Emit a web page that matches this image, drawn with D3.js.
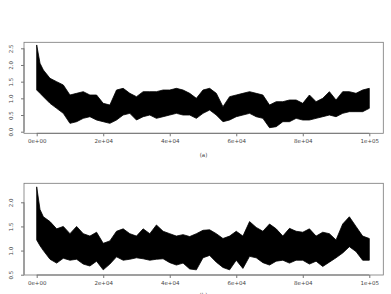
<!DOCTYPE html>
<html>
<head>
<meta charset="utf-8">
<script src="https://cdn.jsdelivr.net/npm/d3@7"></script>
<style>
  body { margin: 0; background: #fff; }
  text { font-family: "DejaVu Sans", sans-serif; }
</style>
</head>
<body>
<svg id="chart"></svg>
<script>
// x positions in thousands of iterations
var xk = [0,1,2,4,6,8,10,12,14,16,18,20,22,24,26,28,30,32,34,36,38,40,42,44,46,48,50,
          52,54,56,58,60,62,64,66,68,70,72,74,76,78,80,82,84,86,88,90,92,94,96,98,100];

// panel (a): upper / lower edge of the band
var hiA = [2.6,2.05,1.85,1.6,1.5,1.4,1.1,1.15,1.2,1.1,1.1,0.85,0.8,1.25,1.3,1.15,1.05,1.2,1.2,1.2,1.25,1.25,
           1.3,1.25,1.15,1.0,1.25,1.3,1.15,0.75,1.05,1.1,1.15,1.2,1.15,1.1,0.8,0.9,0.9,0.95,0.95,0.85,
           1.1,0.9,1.0,1.2,0.95,1.2,1.2,1.15,1.25,1.3];
var loA = [1.25,1.15,1.05,0.85,0.7,0.55,0.25,0.3,0.4,0.45,0.35,0.3,0.25,0.35,0.5,0.55,0.35,0.45,0.5,0.4,0.45,0.5,
           0.55,0.5,0.5,0.4,0.55,0.65,0.5,0.3,0.35,0.45,0.5,0.55,0.45,0.4,0.12,0.15,0.3,0.3,0.4,0.35,
           0.35,0.4,0.45,0.5,0.45,0.55,0.6,0.6,0.6,0.7];

// panel (b)
var hiB = [2.32,1.85,1.7,1.6,1.45,1.5,1.35,1.5,1.35,1.3,1.38,1.15,1.2,1.4,1.45,1.35,1.3,1.45,1.35,1.53,1.4,1.35,
           1.3,1.33,1.29,1.35,1.42,1.43,1.35,1.25,1.3,1.4,1.3,1.6,1.48,1.4,1.55,1.45,1.3,1.46,1.4,1.38,
           1.45,1.3,1.38,1.35,1.22,1.55,1.7,1.5,1.3,1.25];
var loB = [1.22,1.1,1.0,0.82,0.74,0.84,0.8,0.82,0.72,0.68,0.78,0.6,0.72,0.87,0.8,0.82,0.85,0.83,0.8,0.82,0.83,0.75,
           0.7,0.74,0.62,0.6,0.85,0.9,0.76,0.65,0.6,0.8,0.63,0.88,0.85,0.75,0.7,0.78,0.8,0.74,0.8,0.8,
           0.72,0.78,0.67,0.76,0.85,0.95,1.08,0.98,0.8,0.8];

var xTicks = [0,20000,40000,60000,80000,100000];
var xTickLabels = ["0e+00","2e+04","4e+04","6e+04","8e+04","1e+05"];
var yTicksA = [0,0.5,1,1.5,2,2.5];
var yTicksB = [0.5,1,1.5,2];

var W = 391, H = 294;
var svg = d3.select("#chart").attr("width", W).attr("height", H);

var x = d3.scaleLinear().domain([0,100000]).range([36.7,369.3]);

function panel(hi, lo, yScale, yTicks, box, label, labelY)
{
  var g = svg.append("g");
  var data = xk.map(function(k, i) { return {x: k*1000, hi: hi[i], lo: lo[i]}; });

  var area = d3.area()
               .x(function(d) { return x(d.x); })
               .y0(function(d) { return yScale(d.lo); })
               .y1(function(d) { return yScale(d.hi); });

  g.append("path")
   .datum(data)
   .attr("d", area)
   .attr("fill", "#000")
   .attr("stroke", "#000")
   .attr("stroke-width", 0.8)
   .attr("stroke-linejoin", "miter");

  // box
  g.append("rect")
   .attr("x", 24).attr("y", box[0])
   .attr("width", 383.3-24).attr("height", box[1]-box[0])
   .attr("fill", "none").attr("stroke", "#777").attr("stroke-width", 0.8);

  // x axis
  var xa = g.append("g").attr("transform", "translate(0," + box[1] + ")")
            .call(d3.axisBottom(x).tickValues(xTicks).tickSize(3).tickPadding(3)
                    .tickFormat(function(d, i) { return xTickLabels[i]; }));
  xa.select(".domain").attr("stroke", "#777").attr("d", "M" + x(0) + ",0H" + x(100000));
  xa.selectAll(".tick line").attr("stroke", "#777");
  xa.selectAll("text").attr("font-size", 5.5).attr("fill", "#444")
    .attr("font-family", "DejaVu Sans");

  // y axis
  var ya = g.append("g").attr("transform", "translate(24,0)")
            .call(d3.axisLeft(yScale).tickValues(yTicks).tickSize(3).tickFormat(d3.format(".1f")));
  ya.select(".domain").attr("stroke", "#777")
    .attr("d", "M0," + yScale(yTicks[0]) + "V" + yScale(yTicks[yTicks.length-1]));
  ya.selectAll(".tick line").attr("stroke", "#777");
  ya.selectAll("text")
    .attr("font-size", 5.5).attr("fill", "#444").attr("font-family", "DejaVu Sans")
    .attr("x", null).attr("dy", null)
    .attr("text-anchor", "middle")
    .attr("transform", "translate(-13,0) rotate(-90)")
    .attr("y", 2);

  svg.append("text")
     .attr("x", 203.5).attr("y", labelY)
     .attr("text-anchor", "middle")
     .attr("font-size", 5.5).attr("fill", "#444")
     .text(label);
}

var yA = d3.scaleLinear().domain([0,2.5]).range([131.7,48.3]);
var yB = d3.scaleLinear().domain([0.5,2.0]).range([274.7,202.3]);

panel(hiA, loA, yA, yTicksA, [42.3,133.3], "(a)", 157);
panel(hiB, loB, yB, yTicksB, [183.3,275], "(b)", 297);
</script>
</body>
</html>
